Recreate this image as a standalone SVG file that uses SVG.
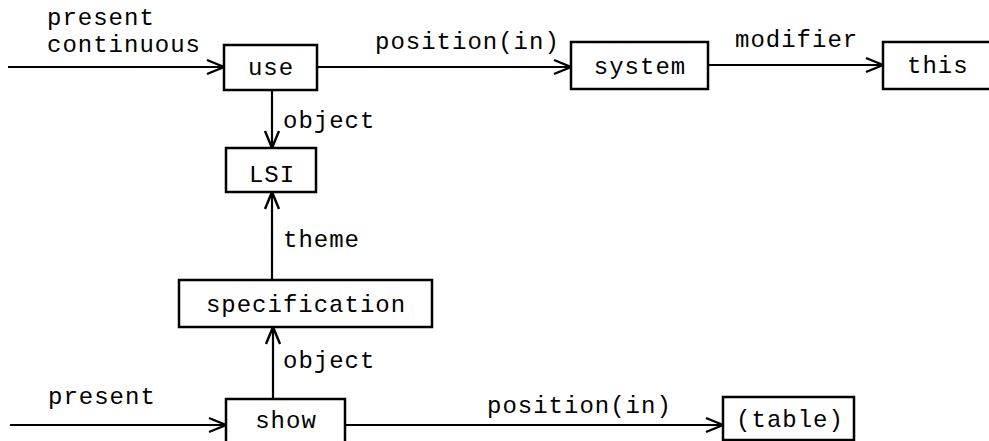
<svg xmlns="http://www.w3.org/2000/svg" width="989" height="441" viewBox="0 0 989 441">
<style>
.box{fill:#fff;stroke:#000;stroke-width:2.5}
.edge{fill:none;stroke:#000;stroke-width:2.2}
text{font-family:"Liberation Mono","Courier New",monospace;font-size:24px;letter-spacing:1px;fill:#000}
.c{text-anchor:middle}
</style>
<defs>
<marker id="arr" markerUnits="userSpaceOnUse" markerWidth="20" markerHeight="18" refX="17" refY="7" orient="auto" overflow="visible">
<path d="M0,0 L17,7 L0,14" fill="none" stroke="#000" stroke-width="2.4"/>
</marker>
</defs>
<g id="connectors">
<line class="edge" x1="8" y1="67" x2="224" y2="67" marker-end="url(#arr)"/>
<line class="edge" x1="317" y1="67" x2="571" y2="67" marker-end="url(#arr)"/>
<line class="edge" x1="708" y1="65" x2="883" y2="65" marker-end="url(#arr)"/>
<line class="edge" x1="272" y1="90" x2="272" y2="148" marker-end="url(#arr)"/>
<line class="edge" x1="272" y1="280" x2="272" y2="192" marker-end="url(#arr)"/>
<line class="edge" x1="273" y1="399" x2="273" y2="327" marker-end="url(#arr)"/>
<line class="edge" x1="10" y1="425" x2="226" y2="425" marker-end="url(#arr)"/>
<line class="edge" x1="345" y1="425" x2="723" y2="425" marker-end="url(#arr)"/>
<text x="47" y="25">present</text>
<text x="47" y="52">continuous</text>
<text x="375" y="49">position(in)</text>
<text x="735" y="47">modifier</text>
<text x="283" y="128">object</text>
<text x="283" y="247">theme</text>
<text x="283" y="368">object</text>
<text x="48" y="404">present</text>
<text x="487" y="413">position(in)</text>
</g>
<g id="node-use">
<rect class="box" x="224" y="45" width="93" height="45"/>
<text class="c" x="271" y="75">use</text>
</g>
<g id="node-system">
<rect class="box" x="571" y="42" width="137" height="47"/>
<text class="c" x="640" y="74">system</text>
</g>
<g id="node-this">
<rect class="box" x="883" y="42" width="120" height="47"/>
<text x="907" y="73">this</text>
</g>
<g id="node-LSI">
<rect class="box" x="226" y="148" width="90" height="44"/>
<text class="c" x="272" y="182">LSI</text>
</g>
<g id="node-specification">
<rect class="box" x="179" y="280" width="253" height="47"/>
<text class="c" x="306" y="312">specification</text>
</g>
<g id="node-show">
<rect class="box" x="226" y="399" width="119" height="50"/>
<text class="c" x="286" y="428">show</text>
</g>
<g id="node-table">
<rect class="box" x="723" y="397" width="131" height="43"/>
<text class="c" x="790" y="427">(table)</text>
</g>
</svg>
